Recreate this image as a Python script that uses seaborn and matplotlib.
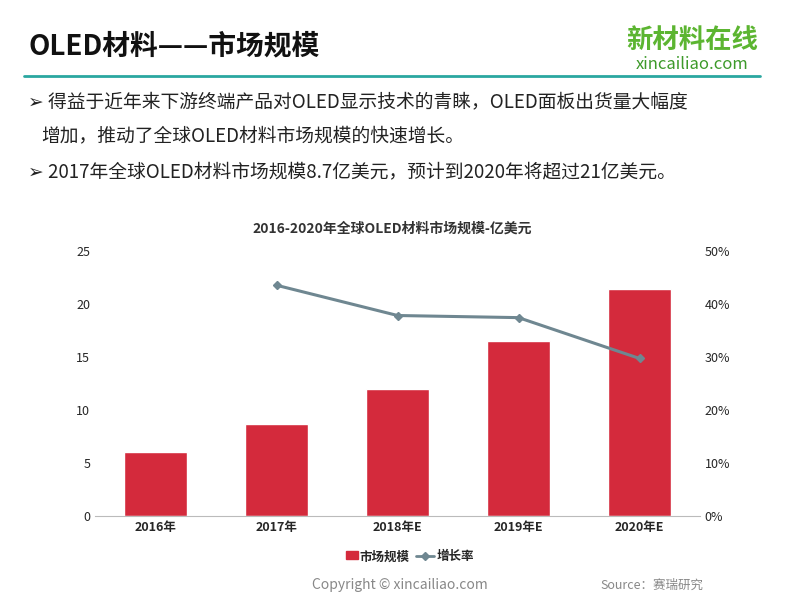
import matplotlib.pyplot as plt
import seaborn as sns
import pandas as pd
from matplotlib.patches import Rectangle

sns.set_style("white")
plt.rcParams['font.family'] = ['Noto Sans CJK SC', 'DejaVu Sans']

# 数据
years = ["2016年", "2017年", "2018年E", "2019年E", "2020年E"]
market_size = [6.0, 8.7, 12.0, 16.5, 21.4]
growth_years = ["2017年", "2018年E", "2019年E", "2020年E"]
growth_rate = [43.5, 37.8, 37.4, 29.7]

fig = plt.figure(figsize=(8, 6), dpi=100)

# 标题与文字
fig.text(0.035, 0.91, "OLED材料——市场规模", fontsize=20, fontweight="bold", color="#111111")
fig.add_artist(plt.Line2D([0.03, 0.95], [0.873, 0.873], color="#2aa7a0", lw=2))
fig.text(0.865, 0.92, "新材料在线", fontsize=19, fontweight="bold", color="#5cb531", ha="center")
fig.text(0.865, 0.885, "xincailiao.com", fontsize=12, color="#3d9a2a", ha="center")
fig.text(0.035, 0.822, "➢ 得益于近年来下游终端产品对OLED显示技术的青睐，OLED面板出货量大幅度",
         fontsize=13.5, color="#222222")
fig.text(0.052, 0.765, "增加，推动了全球OLED材料市场规模的快速增长。", fontsize=13.5, color="#222222")
fig.text(0.035, 0.705, "➢ 2017年全球OLED材料市场规模8.7亿美元，预计到2020年将超过21亿美元。",
         fontsize=13.5, color="#222222")
fig.text(0.49, 0.612, "2016-2020年全球OLED材料市场规模-亿美元", fontsize=10, fontweight="bold",
         ha="center", color="#333333")
fig.text(0.39, 0.018, "Copyright © xincailiao.com", fontsize=10, color="#888888")
fig.text(0.75, 0.018, "Source：赛瑞研究", fontsize=9, color="#888888")

ax = fig.add_axes([0.119, 0.14, 0.756, 0.442])
df = pd.DataFrame({"year": years, "size": market_size})
sns.barplot(data=df, x="year", y="size", color="#d42a3c", width=0.52, ax=ax, saturation=1)
ax.set_ylim(0, 25)
ax.set_yticks(range(0, 26, 5))
ax.set_xlabel("")
ax.set_ylabel("")
for s in ["top", "right", "left"]:
    ax.spines[s].set_visible(False)
ax.spines["bottom"].set_color("#bbbbbb")
ax.tick_params(axis="both", length=0, labelsize=9)
for lbl in ax.get_xticklabels():
    lbl.set_fontweight("bold")

ax2 = ax.twinx()
gx = [years.index(y) for y in growth_years]
ax2.plot(gx, growth_rate, color="#6f8791", lw=2.2, marker="D", markersize=4)
ax2.set_ylim(0, 50)
ax2.set_yticks(range(0, 51, 10))
ax2.set_yticklabels([f"{v}%" for v in range(0, 51, 10)])
ax2.tick_params(axis="y", length=0, labelsize=9)
for s in ["top", "right", "left", "bottom"]:
    ax2.spines[s].set_visible(False)
ax.set_xlim(-0.5, 4.5)

# 图例
fig.add_artist(Rectangle((0.433, 0.068), 0.014, 0.013, color="#d42a3c", transform=fig.transFigure))
fig.text(0.449, 0.066, "市场规模", fontsize=9, fontweight="bold")
fig.add_artist(plt.Line2D([0.52, 0.542], [0.074, 0.074], color="#6f8791", lw=2, transform=fig.transFigure))
fig.add_artist(plt.Line2D([0.531], [0.074], color="#6f8791", marker="D", markersize=4,
                          transform=fig.transFigure))
fig.text(0.546, 0.066, "增长率", fontsize=9, fontweight="bold")

fig.savefig("out.png", dpi=100)
